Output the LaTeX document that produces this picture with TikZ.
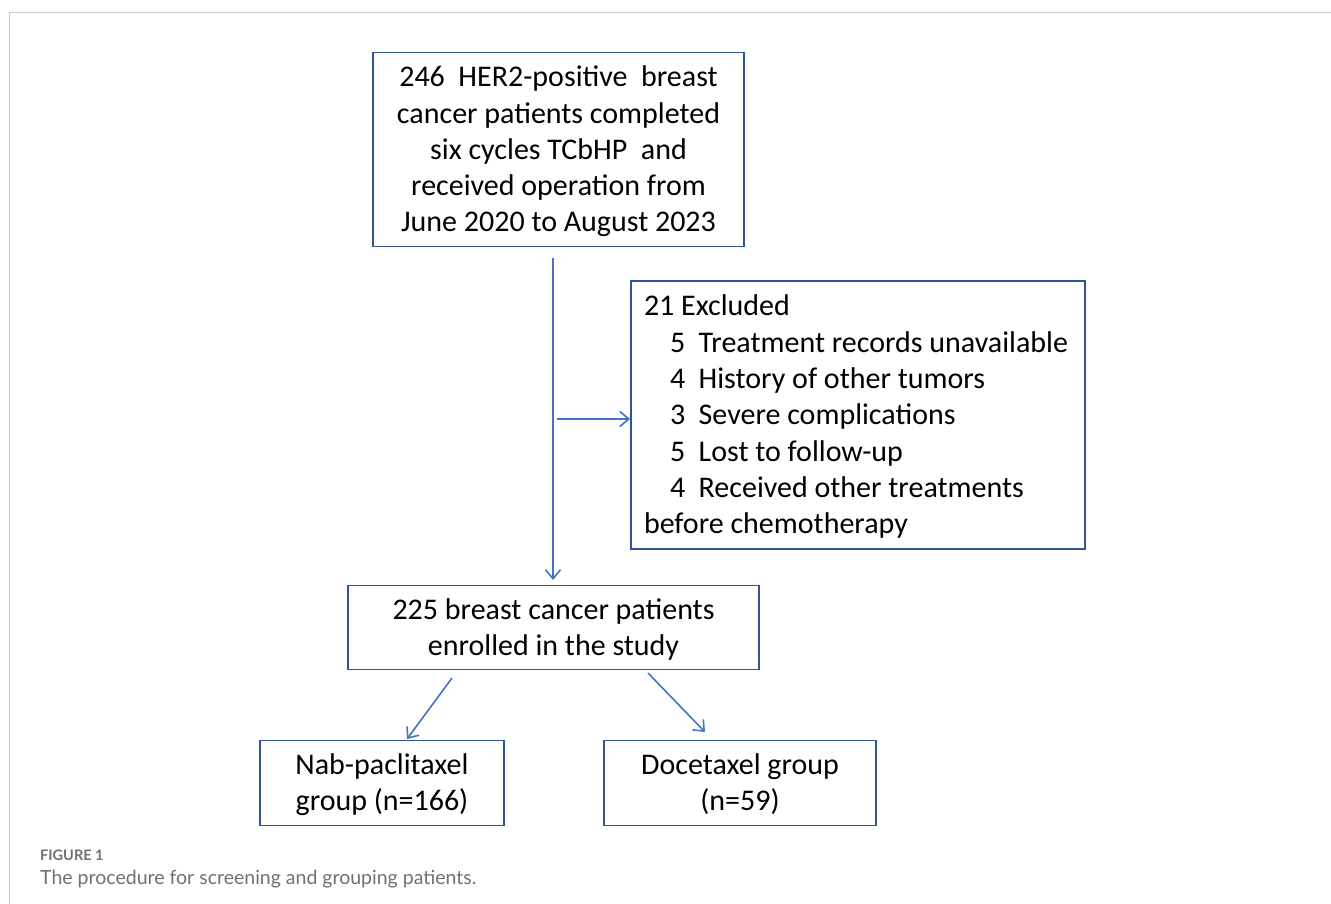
\documentclass[tikz,border=0pt]{standalone}
\usepackage{fontspec}
\setmainfont{Carlito}
\newfontfamily\capfont{Lato}
\usetikzlibrary{arrows.meta,calc}
\definecolor{boxblue}{HTML}{2F5597}
\definecolor{arrblue}{HTML}{4472C4}
\definecolor{framegray}{HTML}{CCCCCC}
\definecolor{capgray}{HTML}{707070}
\newcommand\cblock[1]{\raisebox{-2.5pt}[\height][\depth]{\begin{tabular}{@{}c@{}}#1\end{tabular}}}
\newcommand\lblock[1]{\raisebox{-2.5pt}[\height][\depth]{\makebox[428pt][l]{\begin{tabular}{@{}l@{}}#1\end{tabular}}}}
\newcommand\ind{\hspace*{26pt}}
\newcommand\gap{\hspace{13.5pt}}
\tikzset{
  flowbox/.style={draw=boxblue, line width=1.8pt, inner sep=0pt, font=\fontsize{30}{36.2}\selectfont},
  arr/.style={draw=arrblue, line width=1.6pt, -{Straight Barb[length=9pt,width=15pt,line width=1.6pt]}},
}
\begin{document}
\begin{tikzpicture}[x=1pt,y=-1pt]
\useasboundingbox (0,0) rectangle (1331,904);
\draw[framegray, line width=1.4pt] (9.5,904) -- (9.5,12.5) -- (1331,12.5);

\node[flowbox, minimum width=371pt, minimum height=194pt] (b1) at (558.5,149.5)
  {\cblock{246\ \ HER2-positive\ \ breast\\cancer patients completed\\six cycles TCbHP\ \ and\\received operation from\\June 2020 to August 2023}};

\node[flowbox, font=\fontsize{30}{36.3}\selectfont, minimum width=454pt, minimum height=268pt] (ex) at (858,415)
  {\lblock{21 Excluded\\
   \ind 5\gap Treatment records unavailable\\
   \ind 4\gap History of other tumors\\
   \ind 3\gap Severe complications\\
   \ind 5\gap Lost to follow-up\\
   \ind 4\gap Received other treatments\\
   before chemotherapy}};

\node[flowbox, minimum width=411pt, minimum height=84pt] (b2) at (553.5,627.5)
  {\cblock{225 breast cancer patients\\enrolled in the study}};

\node[flowbox, minimum width=244pt, minimum height=85pt] (nab) at (382,783)
  {\cblock{Nab-paclitaxel\\group (n=166)}};

\node[flowbox, minimum width=272pt, minimum height=85pt] (doc) at (740,783)
  {\cblock{Docetaxel group\\(n=59)}};

\coordinate (v1) at (553,258);
\coordinate (v2) at (553,580);
\coordinate (h1) at (557,419);
\coordinate (d1) at (452,678);
\coordinate (d2) at (407,739);
\coordinate (d3) at (648,673);
\coordinate (d4) at (705,732);

\draw[arr] (v1) -- (v2);
\draw[arr] (h1) -- (ex.west |- h1);
\draw[arr] (d1) -- (d2);
\draw[arr] (d3) -- (d4);

\node[anchor=base west, inner sep=0pt, text=capgray, font=\capfont\bfseries\fontsize{14.5}{16}\selectfont] (cap1) at (40,860) {FIGURE 1};
\node[anchor=base west, inner sep=0pt, text=capgray, font=\capfont\fontsize{19.5}{22}\selectfont] (cap2) at (40,884) {The procedure for screening and grouping patients.};
\end{tikzpicture}
\end{document}
